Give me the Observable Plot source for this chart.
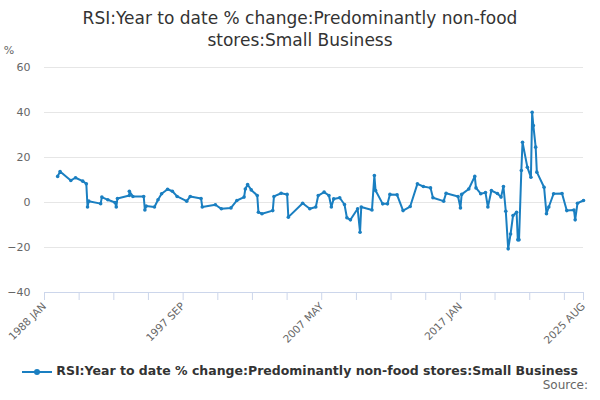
<!DOCTYPE html>
<html><head><meta charset="utf-8">
<script src="https://cdn.jsdelivr.net/npm/d3@7"></script>
<script src="https://cdn.jsdelivr.net/npm/@observablehq/plot@0.6"></script>
<style>
body{margin:0;font-family:"DejaVu Sans",sans-serif;background:#fff;width:600px;}
#title{text-align:center;font-size:17px;color:#333;padding-top:7px;line-height:22px;height:48px;}
#chart svg{overflow:visible;}
#legend{text-align:center;font-size:12.5px;color:#333;font-weight:bold;margin-top:16px;}
#source{text-align:right;font-size:12px;color:#666;padding-right:12px;margin-top:0px;}
</style></head><body>
<div id="title">RSI:Year to date % change:Predominantly non-food<br>stores:Small Business</div>
<div id="chart"></div>
<div id="legend"><svg width="30" height="12" style="vertical-align:middle"><line x1="0" y1="6" x2="30" y2="6" stroke="#1a7fc1" stroke-width="2"/><circle cx="15" cy="6" r="3" fill="#1a7fc1"/></svg> RSI:Year to date % change:Predominantly non-food stores:Small Business</div>
<div id="source">Source:</div>
<script>
const years = [1988.9,1989.1,1989.8,1990.2,1990.7,1990.92,1991.0,1991.1,1991.9,1992.0,1992.4,1992.9,1992.97,1993.1,1993.9,1993.95,1994.2,1994.9,1995.0,1995.1,1995.7,1995.9,1996.2,1996.6,1996.9,1997.25,1997.9,1998.2,1998.9,1999.0,1999.95,2000.3,2001.0,2001.4,2001.9,2002.0,2002.2,2002.4,2002.8,2002.95,2003.2,2003.95,2004.02,2004.5,2004.9,2004.97,2006.0,2006.5,2006.9,2007.1,2007.5,2007.8,2007.97,2008.2,2008.6,2008.9,2009.05,2009.3,2009.8,2009.97,2010.05,2010.85,2010.97,2011.1,2011.55,2011.95,2012.1,2012.6,2012.97,2013.5,2013.97,2014.45,2014.9,2015.05,2015.85,2015.97,2016.8,2016.97,2017.1,2017.6,2017.97,2018.1,2018.4,2018.75,2018.92,2019.2,2019.6,2019.8,2019.97,2020.15,2020.3,2020.5,2020.7,2020.9,2020.97,2021.1,2021.22,2021.3,2021.65,2021.9,2021.97,2022.1,2022.25,2022.35,2022.8,2022.97,2023.2,2023.5,2024.1,2024.45,2024.9,2024.97,2025.2,2025.58];
const values = [11.6,13.8,9.8,11,9.5,8.3,-2,0.6,-0.5,2.4,1.2,0,-2,1.8,3.1,5,2.7,2.7,-3.3,-1.6,-2,1.2,3.9,5.9,5,2.7,0.6,2.7,1.8,-2,-1,-2.8,-2.4,0.9,2.4,6,8,5.6,3.1,-4.3,-5,-3.6,2.7,4.1,3.6,-6.5,-0.3,-2.8,-2,3.1,4.6,3.1,-2,1.6,2.1,-0.9,-6.8,-7.7,-2.8,-13.2,-2,-3.3,12,5.3,-0.6,-0.6,3.6,3.4,-3.6,-1.8,8.3,7.1,6.5,2.1,0.6,4.1,2.7,-2.4,3.6,6,11.6,6.5,3.9,4.4,-2,5.3,4,2.4,7.1,-3.9,-20.6,-14,-5.8,-4.3,-16.6,-16.6,14.2,26.8,15.7,11.2,40.1,34.2,24.6,13.5,6.8,-5,-2,3.9,4,-3.6,-3.3,-7.7,-0.3,0.9];
const yTicks = [-40,-20,0,20,40,60];
const tickLabels = {"1988-01":"1988 JAN","1997-09":"1997 SEP","2007-05":"2007 MAY","2017-01":"2017 JAN","2025-08":"2025 AUG"};

function fromDecimal(y){const yr=Math.floor(y);const m=Math.round((y-yr)*12);return new Date(Date.UTC(yr,m,1));}
const data = years.map((y,i)=>({date:fromDecimal(y),value:values[i]}));
const xTicks=[];for(let m=0;m<=435;m+=29)xTicks.push(new Date(Date.UTC(1988,m,1)));xTicks.push(new Date(Date.UTC(2025,7,1)));
const key=d=>d.toISOString().slice(0,7);
const col="#1a7fc1";
const chart = Plot.plot({
  width:600,height:292,marginLeft:44,marginRight:17,marginTop:12,marginBottom:55,
  style:{fontFamily:"DejaVu Sans, sans-serif",fontSize:"11px",color:"#666",overflow:"visible"},
  x:{type:"utc",domain:[new Date(Date.UTC(1988,0,1)),new Date(Date.UTC(2025,7,1))]},
  y:{domain:[-40,60]},
  marks:[
    Plot.ruleY(yTicks,{stroke:"#e6e6e6"}),
    Plot.axisY({ticks:yTicks,tickSize:0,tickPadding:14,label:null,fill:"#666"}),
    Plot.ruleY([-40],{stroke:"#ccd6eb"}),
    Plot.axisX({ticks:xTicks,tickFormat:d=>tickLabels[key(d)]||"",tickRotate:-45,tickSize:8,stroke:"#ccd6eb",label:null,fill:"#666",tickPadding:4,fontSize:10.5}),
    Plot.line(data,{x:"date",y:"value",stroke:col,strokeWidth:2}),
    Plot.dot(data,{x:"date",y:"value",fill:col,r:1.8})
  ]
});
document.getElementById("chart").appendChild(chart);
d3.select(chart).append("text").attr("x",9).attr("y",0).attr("dy","-0.1em").text("%").attr("fill","#666").style("font-size","11px");
</script></body></html>
